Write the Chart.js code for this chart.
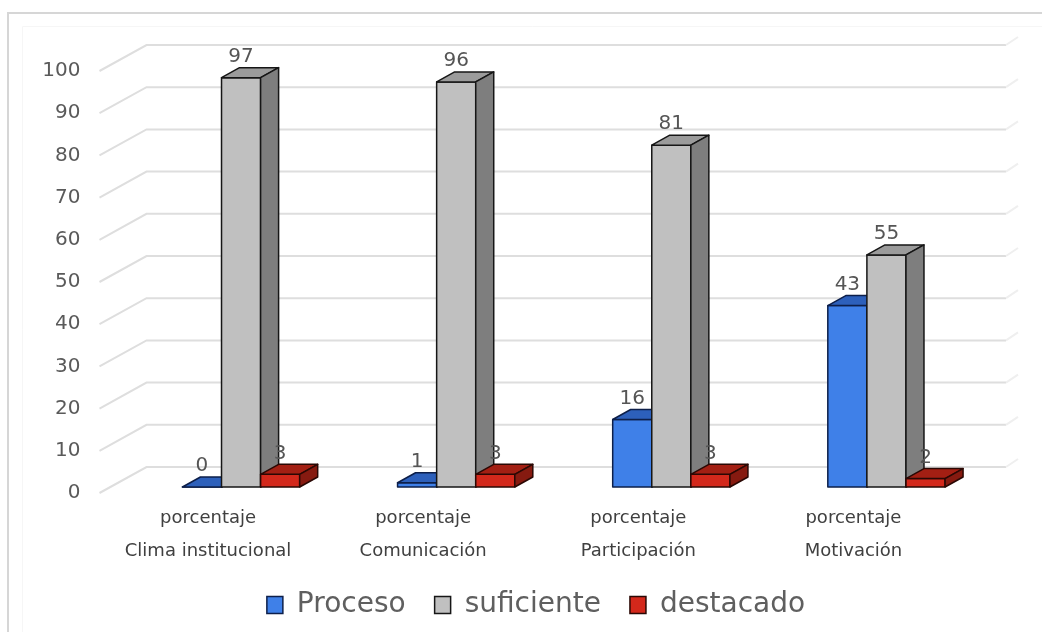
<!DOCTYPE html>
<html>
<head>
<meta charset="utf-8">
<script src="https://cdn.jsdelivr.net/npm/chart.js@4.4.1/dist/chart.umd.min.js"></script>
<style>
  html, body { margin: 0; padding: 0; background: #fff; }
  #wrap { position: relative; width: 1042px; height: 632px; }
</style>
</head>
<body>
<div id="wrap"><canvas id="chart" width="1042" height="632"></canvas></div>
<script>
// categories and series
const categories = [
  ['porcentaje', 'Clima institucional'],
  ['porcentaje', 'Comunicación'],
  ['porcentaje', 'Participación'],
  ['porcentaje', 'Motivación']
];
const proceso    = [0, 1, 16, 43];
const suficiente = [97, 96, 81, 55];
const destacado  = [3, 3, 3, 2];

const yMin = 0, yMax = 100, yStep = 10;

const FONT = '"DejaVu Sans", Verdana, sans-serif';

// face colours: front / top / side
const faces = [
  { front: '#3f80e8', top: '#2d60bb', side: '#22489a', edge: '#0d1f4a' },
  { front: '#c0c0c0', top: '#9b9b9b', side: '#7e7e7e', edge: '#161616' },
  { front: '#d3281b', top: '#a31f13', side: '#861a10', edge: '#2a0804' }
];

// depth of the bars
const DX = 18, DY = 10;

function drawBox(ctx, x, top, base, w, c) {
  const l = x - w / 2, r = x + w / 2;
  ctx.save();
  ctx.lineJoin = 'round';
  ctx.lineWidth = 1.5;
  ctx.strokeStyle = c.edge;

  ctx.fillStyle = c.front;
  ctx.beginPath();
  ctx.rect(l, top, w, base - top);
  ctx.fill(); ctx.stroke();

  ctx.fillStyle = c.top;
  ctx.beginPath();
  ctx.moveTo(l, top);
  ctx.lineTo(l + DX, top - DY);
  ctx.lineTo(r + DX, top - DY);
  ctx.lineTo(r, top);
  ctx.closePath();
  ctx.fill(); ctx.stroke();

  ctx.fillStyle = c.side;
  ctx.beginPath();
  ctx.moveTo(r, top);
  ctx.lineTo(r + DX, top - DY);
  ctx.lineTo(r + DX, base - DY);
  ctx.lineTo(r, base);
  ctx.closePath();
  ctx.fill(); ctx.stroke();
  ctx.restore();
}

const bars3d = {
  id: 'bars3d',
  afterLayout(chart) {
    // legend sits a little right of the canvas centre
    chart.legend.left += 35;
    chart.legend.right += 35;
  },
  beforeDraw(chart) {
    const ctx = chart.ctx;
    // outer frame
    ctx.save();
    ctx.strokeStyle = '#d6d6d6';
    ctx.lineWidth = 2;
    ctx.beginPath();
    ctx.moveTo(8, 632); ctx.lineTo(8, 13); ctx.lineTo(1042, 13);
    ctx.stroke();
    ctx.strokeStyle = '#f6f6f6';
    ctx.lineWidth = 1;
    ctx.beginPath();
    ctx.moveTo(22.5, 632); ctx.lineTo(22.5, 26.5); ctx.lineTo(1042, 26.5);
    ctx.stroke();
    ctx.restore();
  },
  beforeDatasetsDraw(chart) {
    const ctx = chart.ctx;
    const area = chart.chartArea;
    const ys = chart.scales.y;
    const xf = area.left - 34, xb = area.left + 13, xe = area.right + 12;
    // wall and floor lines
    ctx.save();
    ctx.strokeStyle = '#dedede';
    ctx.lineWidth = 2;
    for (let v = yMin; v <= yMax; v += yStep) {
      const py = ys.getPixelForValue(v);
      ctx.beginPath();
      ctx.moveTo(xf, py + 6);
      ctx.lineTo(xb, py - 20);
      ctx.lineTo(xe, py - 20);
      ctx.stroke();
      ctx.save();
      ctx.strokeStyle = '#efefef';
      ctx.beginPath();
      ctx.moveTo(xe, py - 20);
      ctx.lineTo(xe + 12, py - 28);
      ctx.stroke();
      ctx.restore();
    }
    ctx.restore();

    chart.data.datasets.forEach((ds, i) => {
      const meta = chart.getDatasetMeta(i);
      meta.data.forEach(bar => {
        const p = bar.getProps(['x', 'y', 'base', 'width'], true);
        drawBox(ctx, p.x, p.y, p.base, p.width, faces[i]);
      });
    });
    return false;
  },
  afterDraw(chart) {
    const ctx = chart.ctx;
    ctx.save();
    ctx.font = '20px ' + FONT;
    ctx.fillStyle = '#555555';
    ctx.textAlign = 'center';
    ctx.textBaseline = 'middle';
    chart.data.datasets.forEach((ds, i) => {
      const meta = chart.getDatasetMeta(i);
      meta.data.forEach((bar, j) => {
        const p = bar.getProps(['x', 'y'], true);
        ctx.fillText(String(ds.data[j]), p.x, p.y - 21);
      });
    });
    ctx.restore();
  }
};

new Chart(document.getElementById('chart'), {
  type: 'bar',
  data: {
    labels: categories,
    datasets: [
      { label: 'Proceso', data: proceso, backgroundColor: faces[0].front, borderColor: faces[0].edge, borderWidth: 1.5 },
      { label: 'suficiente', data: suficiente, backgroundColor: faces[1].front, borderColor: faces[1].edge, borderWidth: 1.5 },
      { label: 'destacado', data: destacado, backgroundColor: faces[2].front, borderColor: faces[2].edge, borderWidth: 1.5 }
    ]
  },
  options: {
    responsive: false,
    animation: false,
    layout: { padding: { left: 8, right: 48, top: 64, bottom: 3 } },
    datasets: { bar: { barPercentage: 1, categoryPercentage: 0.545 } },
    plugins: {
      tooltip: { enabled: false },
      legend: {
        position: 'bottom',
        labels: {
          font: { size: 28, family: FONT },
          color: '#5f5f5f',
          boxWidth: 16,
          boxHeight: 17,
          padding: 29
        }
      }
    },
    scales: {
      x: {
        grid: { display: false, drawTicks: false },
        border: { display: false },
        ticks: {
          color: '#404040',
          font: { size: 18, family: FONT, lineHeight: 1.83 },
          padding: 15,
          labelOffset: -33,
          maxRotation: 0,
          autoSkip: false
        },
        afterFit(scale) { scale.height = 75; }
      },
      y: {
        min: yMin,
        max: yMax,
        grid: { display: false, drawTicks: false },
        border: { display: false },
        ticks: {
          stepSize: yStep,
          color: '#5a5a5a',
          font: { size: 20, family: FONT },
          padding: 53,
          labelOffset: 6
        },
        afterFit(scale) { scale.width = 125.5; }
      }
    }
  },
  plugins: [bars3d]
});
</script>
</body>
</html>
